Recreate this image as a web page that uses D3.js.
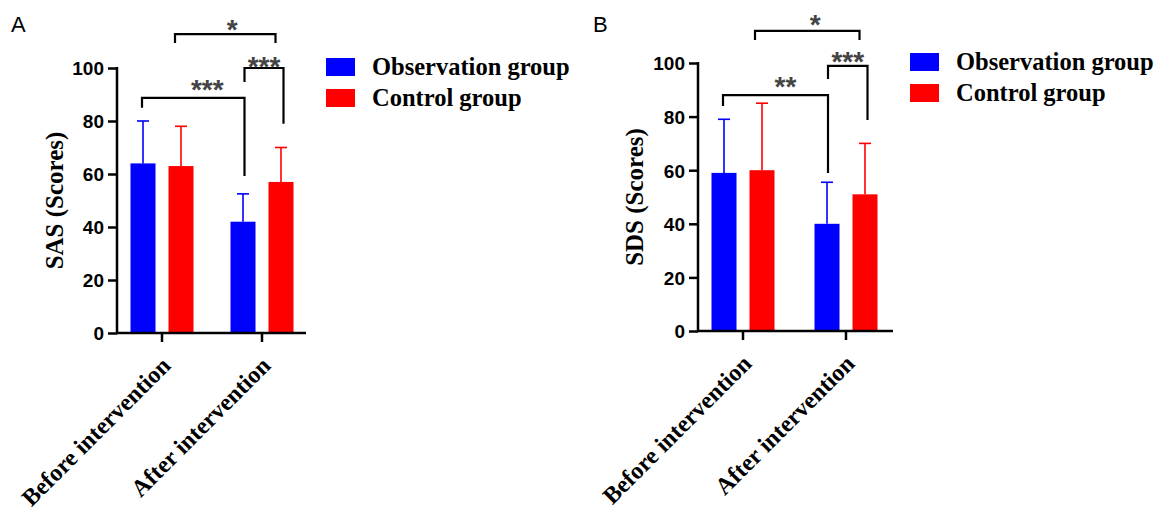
<!DOCTYPE html>
<html>
<head>
<meta charset="utf-8">
<script src="https://cdn.jsdelivr.net/npm/d3@7"></script>
<style>
  html, body { margin: 0; padding: 0; background: #fff; }
  svg { display: block; }
</style>
</head>
<body>
<svg id="chart" width="1159" height="513"></svg>
<script>
// ---------------- DATA ----------------
const categories = ["Before intervention", "After intervention"];
const seriesNames = ["Observation group", "Control group"];
const yTicks = [0, 20, 40, 60, 80, 100];

// Panel A: SAS
const sasObservation = [64, 42];
const sasObservationSD = [16, 10.5];
const sasControl = [63, 57];
const sasControlSD = [15, 13];

// Panel B: SDS
const sdsObservation = [59, 40];
const sdsObservationSD = [20, 15.5];
const sdsControl = [60, 51];
const sdsControlSD = [25, 19];

// Significance brackets: [categoryIndex, seriesIndex] ends, levels in score units
const sasBrackets = [
  { from: [0, 0], to: [1, 0], top: 88.7, fromEnd: 85, toEnd: 59.2, label: "***" },
  { from: [1, 0], to: [1, 1], top: 100, fromEnd: 94.7, toEnd: 79, label: "***" },
  { from: [0, 1], to: [1, 1], top: 112.8, fromEnd: 109.4, toEnd: 109.4, label: "*" }
];
const sdsBrackets = [
  { from: [0, 0], to: [1, 0], top: 88, fromEnd: 84, toEnd: 59, label: "**" },
  { from: [1, 0], to: [1, 1], top: 98.9, fromEnd: 94, toEnd: 78.7, label: "***" },
  { from: [0, 1], to: [1, 1], top: 112, fromEnd: 108.6, toEnd: 108.6, label: "*" }
];

// ---------------- LAYOUT / STYLE ----------------
const colors = ["#0000FF", "#FF0000"];
const serif = "'Liberation Serif', 'Times New Roman', serif";
const sans = "'Liberation Sans', Arial, sans-serif";

const panels = [
  {
    letter: "A", letterPos: [11, 32], title: "SAS (Scores)",
    obs: sasObservation, obsSD: sasObservationSD, ctl: sasControl, ctlSD: sasControlSD,
    brackets: sasBrackets,
    left: 117, right: 306, top: 68, bottom: 333, band: [112, 312], titleX: 63,
    legend: [326, 58],
    bracketStyle: [
      { dxFrom: -1, dxTo: 1.5, labelDx: 14, labelDy: -15 },
      { dxFrom: 1.5, dxTo: 2.5, labelDx: 0, labelDy: -8 },
      { dxFrom: -6, dxTo: -5.5, labelDx: 7, labelDy: -11 }
    ]
  },
  {
    letter: "B", letterPos: [593, 32], title: "SDS (Scores)",
    obs: sdsObservation, obsSD: sdsObservationSD, ctl: sdsControl, ctlSD: sdsControlSD,
    brackets: sdsBrackets,
    left: 698, right: 893, top: 63, bottom: 331, band: [691.5, 897.5], titleX: 643,
    legend: [910, 53],
    bracketStyle: [
      { dxFrom: -1, dxTo: 1, labelDx: 10, labelDy: -15 },
      { dxFrom: 1, dxTo: 2.5, labelDx: 0, labelDy: -11 },
      { dxFrom: -7, dxTo: -5.5, labelDx: 8, labelDy: -13 }
    ]
  }
];

const svg = d3.select("#chart");

panels.forEach(p => {
  const g = svg.append("g");

  const x0 = d3.scaleBand().domain(categories).range(p.band).paddingInner(0).paddingOuter(0);
  const x1 = d3.scaleBand().domain(seriesNames).range([-31.5, 31.5]).paddingInner(0.342).paddingOuter(0);
  const y = d3.scaleLinear().domain([0, 100]).range([p.bottom, p.top]);

  const cx = (ci, si) => x0(categories[ci]) + x0.bandwidth() / 2 + x1(seriesNames[si]) + x1.bandwidth() / 2;

  const rows = [];
  categories.forEach((c, ci) => {
    rows.push({ ci, si: 0, v: p.obs[ci], sd: p.obsSD[ci] });
    rows.push({ ci, si: 1, v: p.ctl[ci], sd: p.ctlSD[ci] });
  });

  // error bars (upper only)
  const eb = g.append("g");
  rows.forEach(d => {
    const xc = cx(d.ci, d.si);
    eb.append("line").attr("x1", xc).attr("x2", xc)
      .attr("y1", y(d.v)).attr("y2", y(d.v + d.sd))
      .attr("stroke", colors[d.si]).attr("stroke-width", 1.6);
    eb.append("line").attr("x1", xc - 6).attr("x2", xc + 6)
      .attr("y1", y(d.v + d.sd)).attr("y2", y(d.v + d.sd))
      .attr("stroke", colors[d.si]).attr("stroke-width", 1.6);
  });

  // bars
  g.append("g").selectAll("rect").data(rows).join("rect")
    .attr("x", d => x0(categories[d.ci]) + x0.bandwidth() / 2 + x1(seriesNames[d.si]))
    .attr("width", x1.bandwidth())
    .attr("y", d => y(d.v))
    .attr("height", d => y(0) - y(d.v))
    .attr("fill", d => colors[d.si]);

  // y axis
  const yAxis = d3.axisLeft(y).tickValues(yTicks).tickSize(9).tickPadding(4);
  const ya = g.append("g").attr("transform", `translate(${p.left},0)`).call(yAxis);
  ya.select(".domain").remove();
  ya.append("line").attr("x1", 0).attr("x2", 0).attr("y1", p.top - 1).attr("y2", p.bottom + 1)
    .attr("stroke", "#000").attr("stroke-width", 2.5);
  ya.selectAll(".tick line").attr("stroke", "#000").attr("stroke-width", 2.5);
  ya.selectAll(".tick text").attr("font-family", sans).attr("font-weight", "bold")
    .attr("font-size", 19).attr("fill", "#000").attr("dy", "0.36em");

  // x axis
  const xAxis = d3.axisBottom(x0).tickSize(9).tickPadding(0);
  const xa = g.append("g").attr("transform", `translate(0,${p.bottom})`).call(xAxis);
  xa.select(".domain").remove();
  xa.append("line").attr("x1", p.left - 1).attr("x2", p.right).attr("y1", 0).attr("y2", 0)
    .attr("stroke", "#000").attr("stroke-width", 2.5);
  xa.selectAll(".tick line").attr("stroke", "#000").attr("stroke-width", 2.5);
  xa.selectAll(".tick text")
    .attr("font-family", serif).attr("font-weight", "bold").attr("font-size", 24).attr("fill", "#000")
    .attr("text-anchor", "end").attr("y", 0).attr("dy", 0)
    .attr("transform", "translate(10,34) rotate(-45)");

  // y title
  g.append("text")
    .attr("transform", `translate(${p.titleX},${(p.top + p.bottom) / 2}) rotate(-90)`)
    .attr("text-anchor", "middle")
    .attr("font-family", serif).attr("font-weight", "bold").attr("font-size", 25)
    .text(p.title);

  // panel letter
  g.append("text").attr("x", p.letterPos[0]).attr("y", p.letterPos[1])
    .attr("font-family", sans).attr("font-size", 22).text(p.letter);

  // brackets
  p.brackets.forEach((b, i) => {
    const st = p.bracketStyle[i];
    const xa_ = cx(b.from[0], b.from[1]) + st.dxFrom;
    const xb_ = cx(b.to[0], b.to[1]) + st.dxTo;
    const yt = y(b.top);
    g.append("path")
      .attr("d", `M${xa_},${y(b.fromEnd)} V${yt} H${xb_} V${y(b.toEnd)}`)
      .attr("fill", "none").attr("stroke", "#000").attr("stroke-width", 2.2);
    g.append("text")
      .attr("x", (xa_ + xb_) / 2 + st.labelDx)
      .attr("y", yt + st.labelDy + 16)
      .attr("text-anchor", "middle")
      .attr("font-family", sans).attr("font-weight", "bold").attr("font-size", 28).attr("fill", "#444")
      .text(b.label);
  });

  // legend
  const lg = g.append("g").attr("transform", `translate(${p.legend[0]},${p.legend[1]})`);
  seriesNames.forEach((s, i) => {
    lg.append("rect").attr("x", 0).attr("y", i * 31).attr("width", 29).attr("height", 18)
      .attr("fill", colors[i]);
    lg.append("text").attr("x", 46).attr("y", i * 31 + 17)
      .attr("font-family", serif).attr("font-weight", "bold").attr("font-size", 24.5)
      .attr("fill", "#000").text(s);
  });
});
</script>
</body>
</html>
